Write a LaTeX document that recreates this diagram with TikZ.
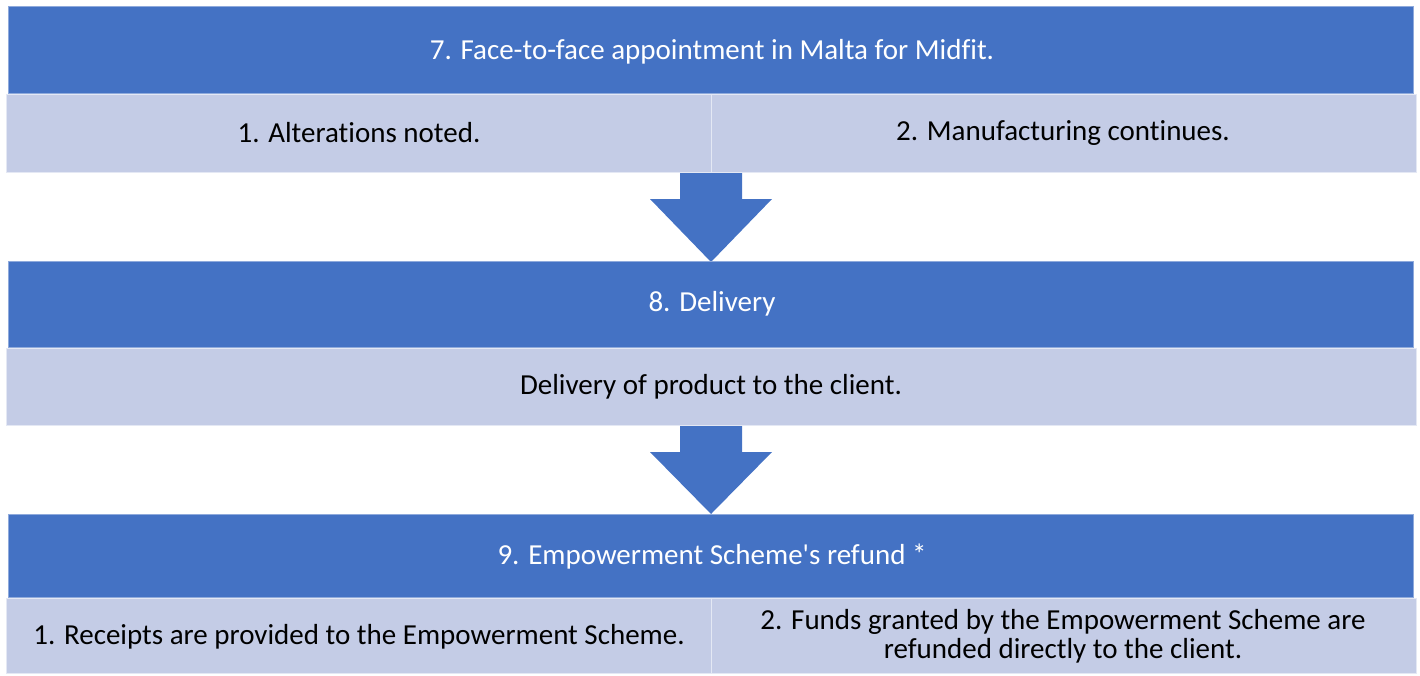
\documentclass[tikz,border=0pt]{standalone}
\usepackage{fontspec}
\setmainfont{Carlito}[Ligatures={NoCommon,TeXOff}]
\definecolor{hdr}{HTML}{4472C4}
\definecolor{lite}{HTML}{C4CCE6}
\definecolor{edge}{HTML}{E4E8F4}
\begin{document}
\begin{tikzpicture}[x=1pt,y=-1pt,
  header/.style={fill=hdr,draw=hdr!60!white,line width=0.8pt},
  cell/.style={fill=lite,draw=edge,line width=1pt},
  htext/.style={text=white,font=\fontsize{29}{29}\selectfont,align=center,inner sep=0pt},
  ctext/.style={text=black,font=\fontsize{29}{29}\selectfont,align=center,inner sep=0pt},
  bigarrow/.style={fill=hdr,draw=none}]
\useasboundingbox (0,0) rectangle (1420,675);
% block 1
\draw[header] (8,6) rectangle (1413,93);
\draw[cell] (6,94) rectangle (711,172);
\draw[cell] (711,94) rectangle (1416,172);
\node[htext] (h7) at (712,52) {7. Face-to-face appointment in Malta for Midfit.};
\node[ctext] (c71) at (359,133) {1. Alterations noted.};
\node[ctext] (c72) at (1063,133) {2. Manufacturing continues.};
% arrow 1
\fill[bigarrow] (680,173) -- (742,173) -- (742,199) -- (772,199) -- (711,262) -- (650,199) -- (680,199) -- cycle;
% block 2
\draw[header] (8,261) rectangle (1413,347);
\draw[cell] (6,348) rectangle (1416,425);
\node[htext] (h8) at (712,304) {8. Delivery};
\node[ctext] (c8) at (711,387) {Delivery of product to the client.};
% arrow 2
\fill[bigarrow] (680,426) -- (742,426) -- (742,452) -- (772,452) -- (711,514) -- (650,452) -- (680,452) -- cycle;
% block 3
\draw[header] (8,514) rectangle (1413,597);
\draw[cell] (6,598) rectangle (711,673);
\draw[cell] (711,598) rectangle (1416,673);
\node[htext] (h9) at (712,557) {9. Empowerment Scheme's refund *};
\node[ctext] (c91) at (359,637) {1. Receipts are provided to the Empowerment Scheme.};
\node[ctext] (c92) at (1063,636) {2. Funds granted by the Empowerment Scheme are\\refunded directly to the client.};
\end{tikzpicture}
\end{document}
